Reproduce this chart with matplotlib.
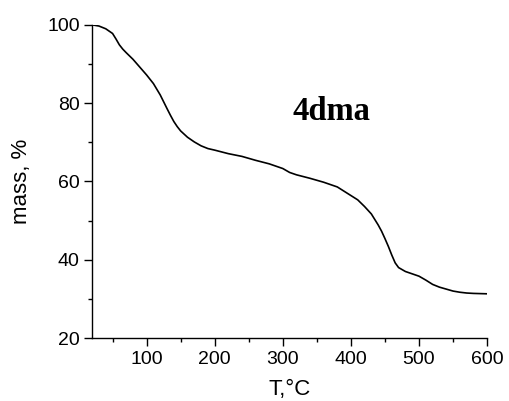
import matplotlib
matplotlib.use("Agg")
import matplotlib.pyplot as plt
from matplotlib.ticker import MultipleLocator

# Thermogravimetric curve: temperature (°C) vs residual mass (%)
temperature = [20, 30, 40, 50, 55, 60, 65, 70, 80, 90, 100, 110, 120, 130,
               135, 140, 145, 150, 160, 170, 180, 190, 200, 220, 240, 260,
               280, 300, 310, 320, 340, 360, 380, 400, 410, 420, 430, 440,
               445, 450, 455, 460, 465, 470, 480, 490, 500, 510, 520, 530,
               540, 550, 560, 570, 580, 600]
mass = [100.0, 99.7, 99.0, 97.8, 96.4, 94.9, 93.8, 92.9, 91.2, 89.2, 87.2,
        85.0, 82.1, 78.6, 76.9, 75.3, 74.0, 72.9, 71.3, 70.1, 69.1, 68.4,
        68.0, 67.1, 66.4, 65.4, 64.5, 63.3, 62.3, 61.7, 60.8, 59.8, 58.6,
        56.4, 55.3, 53.6, 51.7, 48.9, 47.3, 45.4, 43.4, 41.2, 39.2, 38.0,
        37.0, 36.4, 35.8, 34.8, 33.7, 33.0, 32.5, 32.0, 31.7, 31.5, 31.4,
        31.3]

sample_name = "4dma"
x_ticks = [100, 200, 300, 400, 500, 600]
y_ticks = [20, 40, 60, 80, 100]

plt.rcParams['font.family'] = ['Liberation Sans', 'DejaVu Sans']

fig = plt.figure(figsize=(5.09, 4.01), dpi=100)
ax = fig.add_axes([0.181, 0.157, 0.776, 0.781])

ax.plot(temperature, mass, color='black', linewidth=1.2)

ax.set_xlim(20, 600)
ax.set_ylim(20, 100)
ax.set_xticks(x_ticks)
ax.set_yticks(y_ticks)
ax.xaxis.set_minor_locator(MultipleLocator(50))
ax.yaxis.set_minor_locator(MultipleLocator(10))

for side in ('top', 'right'):
    ax.spines[side].set_visible(False)
for side in ('left', 'bottom'):
    ax.spines[side].set_linewidth(1.0)

ax.tick_params(which='major', direction='out', length=6, width=1.0,
               labelsize=14, pad=3)
ax.tick_params(which='minor', direction='out', length=3, width=1.0)

ax.set_xlabel("T,°C", fontsize=16, labelpad=8)
ax.set_ylabel("mass, %", fontsize=16, labelpad=11)

ax.text(371, 75.8, sample_name, fontsize=23.5, fontweight='bold',
        family=['Liberation Serif', 'DejaVu Serif'], ha='center',
        va='baseline')

fig.savefig("out.png", dpi=100)
